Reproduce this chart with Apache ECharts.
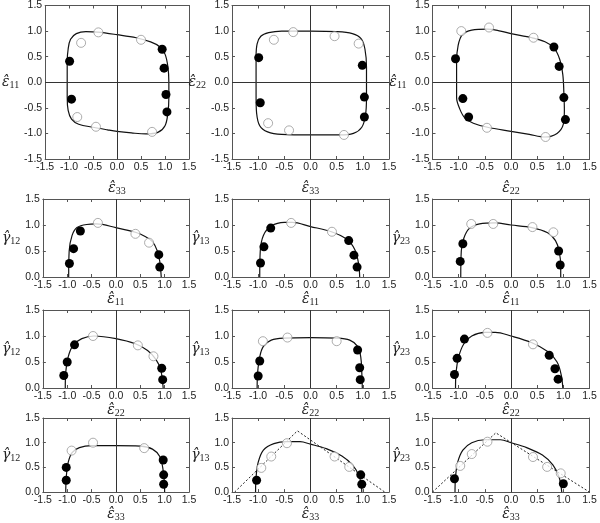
<!DOCTYPE html>
<html>
<head>
<meta charset="utf-8">
<script src="https://cdn.jsdelivr.net/npm/echarts@6/dist/echarts.min.js"></script>
<style>
  html, body { margin: 0; padding: 0; background: #fff; }
  #chart { width: 600px; height: 523px; }
</style>
</head>
<body>
<div id="chart"></div>
<script>
// axis names: [symbol, subscript]
const xNames = [
  ['ε̂', '33'], ['ε̂', '33'], ['ε̂', '22'],
  ['ε̂', '11'], ['ε̂', '11'], ['ε̂', '11'],
  ['ε̂', '22'], ['ε̂', '22'], ['ε̂', '22'],
  ['ε̂', '33'], ['ε̂', '33'], ['ε̂', '33']
];
const yNames = [
  ['ε̂', '11'], ['ε̂', '22'], ['ε̂', '11'],
  ['γ̂', '12'], ['γ̂', '13'], ['γ̂', '23'],
  ['γ̂', '12'], ['γ̂', '13'], ['γ̂', '23'],
  ['γ̂', '12'], ['γ̂', '13'], ['γ̂', '23']
];

// row 1 : closed yield curves
const curve1 = [[-1.04,0],[-1.04,0.4],[-1.02,0.65],[-0.97,0.84],[-0.85,0.95],[-0.65,0.99],[-0.4,0.98],[0,0.93],[0.4,0.87],[0.7,0.79],[0.88,0.7],[1.0,0.55],[1.06,0.3],[1.08,0],[1.08,-0.3],[1.06,-0.6],[1.0,-0.85],[0.85,-0.98],[0.6,-1.01],[0.3,-0.99],[0,-0.96],[-0.2,-0.93],[-0.5,-0.88],[-0.8,-0.82],[-0.95,-0.72],[-1.02,-0.55],[-1.04,-0.3],[-1.04,0]];
const open1 = [[-0.39,0.975],[-0.75,0.77],[0.5,0.83],[-0.83,-0.68],[-0.44,-0.87],[0.73,-0.97]];
const filled1 = [[-0.99,0.41],[-0.95,-0.33],[0.94,0.645],[0.98,0.275],[1.02,-0.24],[1.04,-0.58]];

const curve2 = [[-1.04,0],[-1.04,0.5],[-1.02,0.75],[-0.95,0.9],[-0.8,0.97],[-0.55,1.0],[0,1.0],[0.5,0.99],[0.8,0.95],[0.97,0.85],[1.04,0.65],[1.07,0.3],[1.07,-0.3],[1.05,-0.65],[0.98,-0.88],[0.82,-1.0],[0.55,-1.03],[0,-1.03],[-0.55,-1.02],[-0.82,-0.97],[-0.97,-0.85],[-1.03,-0.6],[-1.04,-0.3],[-1.04,0]];
const open2 = [[-0.33,0.98],[-0.7,0.83],[0.46,0.9],[0.92,0.755],[-0.81,-0.8],[-0.41,-0.94],[0.64,-1.03]];
const filled2 = [[-0.99,0.48],[-0.96,-0.4],[0.99,0.33],[1.03,-0.29],[1.03,-0.68]];

const curve3 = [[-1.04,0],[-1.04,0.4],[-1.01,0.72],[-0.93,0.93],[-0.75,1.02],[-0.45,1.04],[-0.2,1.0],[0,0.95],[0.4,0.87],[0.65,0.79],[0.82,0.67],[0.93,0.45],[0.99,0.15],[1.01,-0.2],[1.02,-0.55],[1.0,-0.82],[0.88,-1.0],[0.65,-1.07],[0.35,-1.02],[0,-0.96],[-0.45,-0.88],[-0.72,-0.8],[-0.88,-0.7],[-0.98,-0.52],[-1.04,-0.3],[-1.04,0]];
const open3 = [[-0.95,1.0],[-0.42,1.07],[0.43,0.87],[-0.46,-0.89],[0.66,-1.07]];
const filled3 = [[-1.06,0.46],[-0.92,-0.32],[-0.81,-0.68],[0.82,0.69],[0.92,0.31],[1.01,-0.3],[1.04,-0.73]];

// row 2
const curve4 = [[-0.97,0],[-0.96,0.5],[-0.9,0.8],[-0.8,0.95],[-0.6,1.01],[-0.4,1.02],[0,0.95],[0.4,0.86],[0.6,0.78],[0.75,0.68],[0.85,0.5],[0.9,0.3],[0.93,0]];
const open4 = [[-0.37,1.04],[0.4,0.83],[0.68,0.66]];
const filled4 = [[-0.955,0.26],[-0.87,0.545],[-0.73,0.885],[0.88,0.43],[0.9,0.19]];

const curve5 = [[-0.97,0],[-0.96,0.5],[-0.9,0.8],[-0.75,0.98],[-0.5,1.05],[-0.35,1.05],[0,0.97],[0.4,0.87],[0.7,0.72],[0.85,0.52],[0.92,0.25],[0.94,0]];
const open5 = [[-0.37,1.04],[0.41,0.87]];
const filled5 = [[-0.955,0.27],[-0.89,0.58],[-0.76,0.94],[0.73,0.7],[0.83,0.42],[0.89,0.19]];

const curve6 = [[-0.96,0],[-0.95,0.5],[-0.9,0.75],[-0.8,0.93],[-0.6,1.02],[-0.3,1.04],[0,1.0],[0.4,0.95],[0.7,0.85],[0.85,0.7],[0.92,0.5],[0.95,0.2],[0.95,0]];
const open6 = [[-0.76,1.02],[-0.34,1.02],[0.41,0.96],[0.81,0.86]];
const filled6 = [[-0.97,0.3],[-0.92,0.64],[0.91,0.5],[0.94,0.23]];

// row 3
const curve7 = [[-1.04,0],[-1.03,0.3],[-0.98,0.6],[-0.88,0.82],[-0.7,0.95],[-0.45,1.0],[0,0.95],[0.4,0.85],[0.65,0.72],[0.82,0.55],[0.92,0.35],[0.97,0]];
const open7 = [[-0.47,1.0],[0.45,0.82],[0.77,0.61]];
const filled7 = [[-1.07,0.24],[-1.0,0.5],[-0.85,0.83],[0.94,0.38],[0.96,0.16]];

const curve8 = [[-1.02,0],[-1.01,0.3],[-0.97,0.6],[-0.9,0.8],[-0.75,0.92],[-0.5,0.96],[0,0.97],[0.5,0.96],[0.75,0.92],[0.9,0.8],[0.96,0.6],[0.98,0.3],[0.99,0]];
const open8 = [[-0.91,0.9],[-0.44,0.97],[0.5,0.9]];
const filled8 = [[-1.0,0.23],[-0.97,0.52],[0.9,0.73],[0.94,0.39],[0.95,0.16]];

const curve9 = [[-1.06,0],[-1.05,0.3],[-1.0,0.6],[-0.9,0.85],[-0.75,1.0],[-0.5,1.07],[-0.3,1.07],[0,1.0],[0.4,0.87],[0.7,0.7],[0.88,0.5],[0.96,0.25],[0.99,0]];
const open9 = [[-0.45,1.06],[0.42,0.84]];
const filled9 = [[-1.08,0.26],[-1.03,0.57],[-0.89,0.94],[0.73,0.63],[0.84,0.37],[0.9,0.17]];

// row 4
const curve10 = [[-1.03,0],[-1.02,0.3],[-0.98,0.6],[-0.9,0.8],[-0.75,0.9],[-0.5,0.94],[0,0.94],[0.5,0.93],[0.75,0.87],[0.9,0.72],[0.96,0.5],[0.99,0.25],[1.0,0]];
const open10 = [[-0.91,0.84],[-0.47,1.0],[0.58,0.89]];
const filled10 = [[-1.02,0.5],[-1.02,0.24],[0.97,0.65],[0.98,0.35],[0.98,0.16]];

const curve11 = [[-1.05,0],[-1.04,0.3],[-1.0,0.6],[-0.9,0.85],[-0.7,0.98],[-0.45,1.02],[-0.2,1.02],[0,0.97],[0.3,0.88],[0.6,0.73],[0.8,0.55],[0.92,0.35],[0.97,0.15],[0.98,0]];
const open11 = [[-0.94,0.49],[-0.75,0.72],[-0.45,0.99],[0.46,0.72],[0.74,0.51]];
const filled11 = [[-1.03,0.24],[0.96,0.35],[0.98,0.16]];
const dotted11 = [[-1.45,0],[-0.25,1.24],[1.42,0]];

const curve12 = [[-1.07,0],[-1.06,0.3],[-1.02,0.6],[-0.92,0.85],[-0.75,1.0],[-0.5,1.06],[-0.2,1.06],[0,1.0],[0.3,0.9],[0.6,0.75],[0.8,0.55],[0.92,0.3],[0.97,0]];
const open12 = [[-0.97,0.53],[-0.75,0.77],[-0.45,1.02],[0.42,0.71],[0.69,0.51],[0.95,0.38]];
const filled12 = [[-1.08,0.27],[1.0,0.17]];
const dotted12 = [[-1.5,0],[-0.29,1.2],[1.5,0]];

const curves = [curve1, curve2, curve3, curve4, curve5, curve6, curve7, curve8, curve9, curve10, curve11, curve12];
const opens = [open1, open2, open3, open4, open5, open6, open7, open8, open9, open10, open11, open12];
const filleds = [filled1, filled2, filled3, filled4, filled5, filled6, filled7, filled8, filled9, filled10, filled11, filled12];
const dotteds = {10: dotted11, 11: dotted12};

const colLeft = [32, 232, 432.5];
const rowBox = [[5, 154], [199, 78], [310, 78], [418, 79]];
const frameColor = '#555';
const labelFont = "'Liberation Sans Narrow', 'Liberation Sans', Arial, sans-serif";

function nameRich() {
  return {
    v: { fontFamily: "'DejaVu Serif', 'Liberation Serif', serif", fontStyle: 'italic', fontSize: 14, color: '#222' },
    s: { fontFamily: "'Liberation Serif', serif", fontSize: 10, color: '#222', verticalAlign: 'bottom', padding: [6, 0, 0, 0] }
  };
}

const grids = [], xAxes = [], yAxes = [], series = [];

for (let i = 0; i < 12; i++) {
  const r = Math.floor(i / 3), c = i % 3;
  const firstRow = r === 0;
  grids.push({ left: colLeft[c], top: rowBox[r][0], width: 157, height: rowBox[r][1], show: false });
  const yMin = firstRow ? -1.5 : 0;
  const common = {
    gridIndex: i, type: 'value', interval: 0.5,
    axisLine: { show: true, onZero: false, lineStyle: { color: frameColor, width: 1 } },
    axisTick: { show: true, inside: true, length: 3, lineStyle: { color: frameColor } },
    splitLine: { show: false }
  };
  const label = {
    fontSize: 10.5, color: '#222', fontFamily: labelFont, margin: 3,
    formatter: v => v.toFixed(1)
  };
  xAxes.push(Object.assign({}, common, {
    min: -1.5, max: 1.5, position: 'bottom', axisLabel: label,
    name: '{v|' + xNames[i][0] + '}{s|' + xNames[i][1] + '}',
    nameLocation: 'middle', nameGap: firstRow ? 21 : 11,
    nameTextStyle: { rich: nameRich() }
  }));
  xAxes.push(Object.assign({}, common, {
    min: -1.5, max: 1.5, position: 'top', axisLabel: { show: false }
  }));
  yAxes.push(Object.assign({}, common, {
    min: yMin, max: 1.5, position: 'left', axisLabel: label,
    name: '{v|' + yNames[i][0] + '}{s|' + yNames[i][1] + '}',
    nameLocation: 'middle', nameRotate: 0, nameGap: firstRow ? 17 : 12,
    nameTextStyle: { rich: nameRich() }
  }));
  yAxes.push(Object.assign({}, common, {
    min: yMin, max: 1.5, position: 'right', axisLabel: { show: false }
  }));

  const xi = i * 2, yi = i * 2;
  const zeroLines = firstRow ? [{ xAxis: 0 }, { yAxis: 0 }] : [{ xAxis: 0 }];
  series.push({
    type: 'line', xAxisIndex: xi, yAxisIndex: yi, data: curves[i],
    smooth: 0.35, showSymbol: false, symbol: 'none',
    lineStyle: { color: '#111', width: 1.2 },
    markLine: {
      silent: true, symbol: ['none', 'none'], label: { show: false },
      lineStyle: { color: '#333', width: 1, type: 'solid' },
      data: zeroLines
    },
    z: 2
  });
  if (dotteds[i]) {
    series.push({
      type: 'line', xAxisIndex: xi, yAxisIndex: yi, data: dotteds[i],
      symbol: 'none', lineStyle: { color: '#222', width: 1, type: [2, 2] }, z: 2
    });
  }
  series.push({
    type: 'scatter', xAxisIndex: xi, yAxisIndex: yi, data: opens[i],
    symbolSize: 9, itemStyle: { color: '#fff', borderColor: '#999', borderWidth: 1 }, z: 3
  });
  series.push({
    type: 'scatter', xAxisIndex: xi, yAxisIndex: yi, data: filleds[i],
    symbolSize: 9, itemStyle: { color: '#000', opacity: 1 }, z: 4
  });
}

const chart = echarts.init(document.getElementById('chart'));
chart.setOption({
  animation: false,
  backgroundColor: '#fff',
  grid: grids,
  xAxis: xAxes,
  yAxis: yAxes,
  series: series
});
</script>
</body>
</html>
